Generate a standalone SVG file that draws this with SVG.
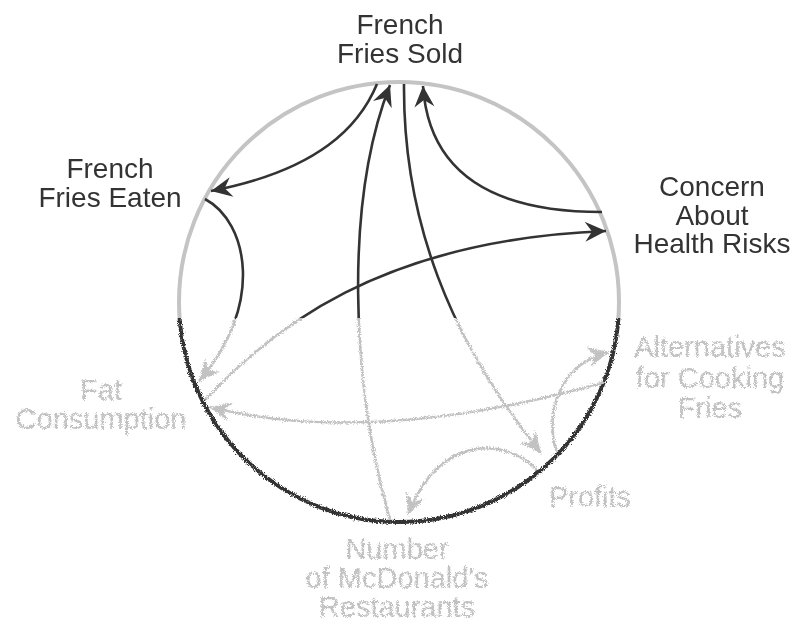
<svg xmlns="http://www.w3.org/2000/svg" width="796" height="622" viewBox="0 0 796 622">
<style>
.up{font-family:"Liberation Sans",Arial,sans-serif;font-size:28px;fill:#333;text-anchor:middle}
.lo{font-family:"Liberation Sans",Arial,sans-serif;font-size:29px;fill:#c2c2c2;text-anchor:middle}
.c{fill:none;stroke:url(#lineGrad);stroke-width:2.6}
.ring{fill:none;stroke:url(#ringGrad);stroke-width:4}
</style>
<defs>
<linearGradient id="lineGrad" gradientUnits="userSpaceOnUse" x1="0" y1="0" x2="0" y2="622">
<stop offset="0.511" stop-color="#333"/><stop offset="0.511" stop-color="#c2c2c2"/>
</linearGradient>
<linearGradient id="ringGrad" gradientUnits="userSpaceOnUse" x1="0" y1="0" x2="0" y2="622">
<stop offset="0.511" stop-color="#c4c4c4"/><stop offset="0.511" stop-color="#333"/>
</linearGradient>
<marker id="ad" viewBox="-23 -11 25 22" refX="0" refY="0" markerWidth="25" markerHeight="22" markerUnits="userSpaceOnUse" orient="auto">
<path d="M0,0 L-21,-10 L-14,0 L-21,10 Z" fill="#333"/>
</marker>
<marker id="al" viewBox="-23 -11 25 22" refX="0" refY="0" markerWidth="25" markerHeight="22" markerUnits="userSpaceOnUse" orient="auto">
<path d="M0,0 L-21,-10 L-14,0 L-21,10 Z" fill="#c2c2c2"/>
</marker>
<filter id="grain" filterUnits="userSpaceOnUse" x="0" y="0" width="796" height="622" color-interpolation-filters="sRGB">
<feTurbulence type="fractalNoise" baseFrequency="1.1" numOctaves="2" seed="7" result="noise"/>
<feDisplacementMap in="SourceGraphic" in2="noise" scale="5" xChannelSelector="R" yChannelSelector="G" x="0" y="318" width="796" height="304" result="rough"/>
<feOffset in="SourceGraphic" dx="0" dy="0" x="0" y="0" width="796" height="318" result="smooth"/>
<feMerge><feMergeNode in="smooth"/><feMergeNode in="rough"/></feMerge>
</filter>
</defs>
<rect width="796" height="622" fill="#fff"/>
<g filter="url(#grain)">
<circle id="ring" class="ring" cx="399" cy="302" r="220"/>
<g id="connectors">
<path class="c" d="M377,84 C360,125 320,170 211,191" marker-end="url(#ad)"/>
<path class="c" d="M390,520 C350,380 345,200 390,85" marker-end="url(#ad)"/>
<path class="c" d="M404,84 C403,220 450,340 541,453" marker-end="url(#al)"/>
<path class="c" d="M602,212 C520,212 430,190 423,86" marker-end="url(#ad)"/>
<path class="c" d="M205,199 C248,222 265,305 199,381" marker-end="url(#al)"/>
<path class="c" d="M205,400 C270,330 380,240 606,231" marker-end="url(#ad)"/>
<path class="c" d="M605,382 C490,415 340,440 210,407" marker-end="url(#al)"/>
<path class="c" d="M557,452 C545,420 555,365 609,352" marker-end="url(#al)"/>
<path class="c" d="M537,470 C510,440 440,430 408,515" marker-end="url(#al)"/>
</g>
<g id="n-sold"><text class="up" x="400" y="34">French</text><text class="up" x="400" y="63">Fries Sold</text></g>
<g id="n-eaten"><text class="up" x="110" y="178">French</text><text class="up" x="110" y="207">Fries Eaten</text></g>
<g id="n-concern"><text class="up" x="712" y="196">Concern</text><text class="up" x="712" y="225">About</text><text class="up" x="712" y="253">Health Risks</text></g>
<g id="n-alt"><text class="lo" x="710" y="357">Alternatives</text><text class="lo" x="710" y="388">for Cooking</text><text class="lo" x="710" y="418">Fries</text></g>
<g id="n-fat"><text class="lo" x="101" y="400">Fat</text><text class="lo" x="101" y="429">Consumption</text></g>
<g id="n-profits"><text class="lo" x="590" y="507">Profits</text></g>
<g id="n-mcd"><text class="lo" x="397" y="559">Number</text><text class="lo" x="397" y="588">of McDonald's</text><text class="lo" x="397" y="617">Restaurants</text></g>
</g>
</svg>
